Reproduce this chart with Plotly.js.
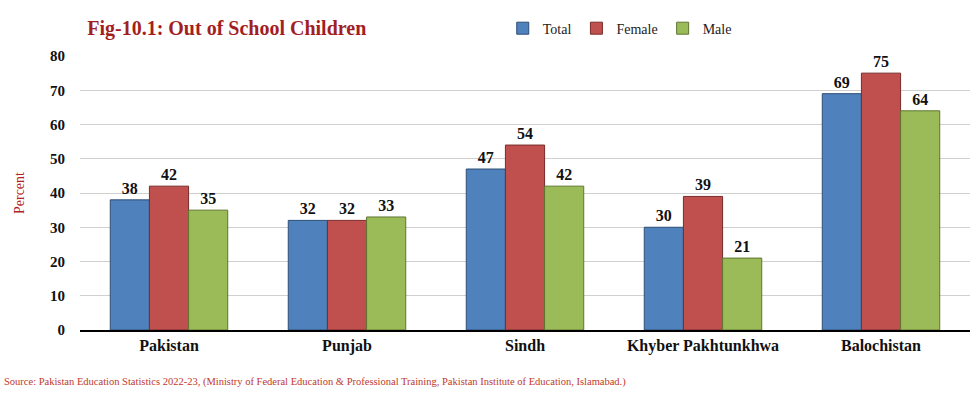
<!DOCTYPE html>
<html><head><meta charset="utf-8">
<script src="https://cdn.plot.ly/plotly-3.0.1.min.js"></script>
<style>body{margin:0;background:#fff}#c{width:980px;height:395px}</style>
</head><body><div id="c"></div>
<script>
const categories = ["Pakistan", "Punjab", "Sindh", "Khyber Pakhtunkhwa", "Balochistan"];
const totalVals = [38, 32, 47, 30, 69];
const femaleVals = [42, 32, 54, 39, 75];
const maleVals = [35, 33, 42, 21, 64];
const yTicks = [0, 10, 20, 30, 40, 50, 60, 70, 80];

const serif = "Liberation Serif";
function series(name, vals, fill, line) {
  return {
    type: "bar", name: name, x: categories, y: vals,
    marker: {color: fill, line: {color: line, width: 1}},
    texttemplate: "<b>%{y}</b>", textposition: "outside", cliponaxis: false,
    textfont: {family: serif, size: 16, color: "#111"}
  };
}
const data = [
  series("Total", totalVals, "#4F81BD", "#2C4D75"),
  series("Female", femaleVals, "#C0504D", "#772C2A"),
  series("Male", maleVals, "#9BBB59", "#5F7530")
];
const layout = {
  width: 980, height: 395,
  margin: {l: 80, r: 10, t: 56, b: 65},
  paper_bgcolor: "#fff", plot_bgcolor: "#fff",
  barmode: "group", bargap: 0.34, bargroupgap: 0,
  font: {family: serif},
  title: {text: "<b>Fig-10.1: Out of School Children</b>", x: 0.089, xanchor: "left", y: 0.93, yanchor: "middle",
          font: {family: serif, size: 20, color: "#A31F1F"}},
  showlegend: true,
  legend: {orientation: "h", x: 0.475, xanchor: "left", y: 1.1, yanchor: "middle",
           font: {family: serif, size: 14, color: "#222"}, traceorder: "normal"},
  xaxis: {type: "category", showgrid: false, showline: true, linecolor: "#000", linewidth: 2,
          ticks: "", tickvals: categories, ticktext: categories.map(c => "<b>" + c + "</b>"),
          tickfont: {family: serif, size: 16, color: "#111"}},
  yaxis: {range: [0, 80], tickvals: yTicks, ticktext: yTicks.map(v => "<b>" + v + "</b>"),
          showgrid: true, gridcolor: "#d0d0d0", gridwidth: 1,
          zeroline: false, showline: false, ticks: "", ticklabelstandoff: 14,
          tickfont: {family: serif, size: 15, color: "#111"},
          title: {text: "Percent", font: {family: serif, size: 14, color: "#B22222"}, standoff: 22}},
  annotations: [{
    text: "Source: Pakistan Education Statistics 2022-23, (Ministry of Federal Education & Professional Training, Pakistan Institute of Education, Islamabad.)",
    xref: "paper", yref: "paper", x: -0.088, y: -0.19, xanchor: "left", yanchor: "middle",
    showarrow: false, font: {family: serif, size: 10.5, color: "#C0392B"}
  }]
};
Plotly.newPlot("c", data, layout, {displayModeBar: false, staticPlot: true});
</script></body></html>
